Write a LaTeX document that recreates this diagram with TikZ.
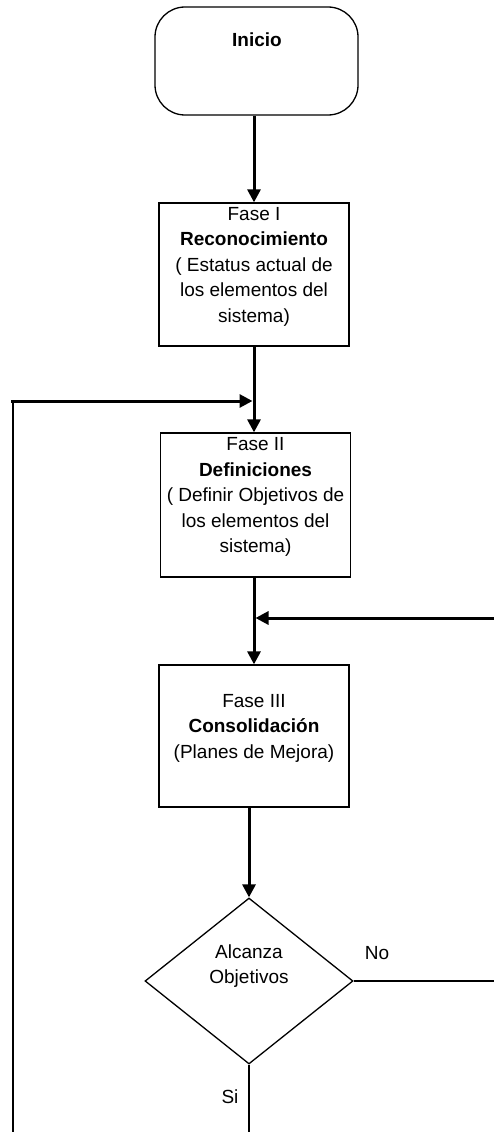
\documentclass[tikz,border=0pt]{standalone}
\usepackage{fontspec}
\setmainfont{Liberation Sans}
\usetikzlibrary{arrows.meta,shapes.geometric}
\begin{document}
\begin{tikzpicture}[x=1pt,y=-1pt,
  every node/.style={font=\fontsize{19}{25}\selectfont, inner sep=0pt},
  box/.style={draw, line width=1.3pt, minimum width=190pt, minimum height=143pt},
  txt/.style={align=center, font=\fontsize{19}{25.5}\selectfont},
  flow/.style={line width=3pt, -{Triangle[length=13pt,width=13pt]}},
  link/.style={line width=1.4pt},
]
\useasboundingbox (0,0) rectangle (494,1132);

% start terminal
\node[draw, line width=1.3pt, rounded corners=30pt, minimum width=203pt, minimum height=108pt] (inicio) at (256.5,61) {};
\node[font=\bfseries\fontsize{19}{25}\selectfont] (inicioText) at (257,40) {Inicio};

% phases
\node[box, label={[txt, yshift=8pt]center:{Fase I\\\textbf{Reconocimiento}\\( Estatus actual de\\los elementos del\\sistema)}}] (b1) at (254,274.5) {};
\node[box, minimum height=144pt, label={[txt, yshift=8pt]center:{Fase II\\\textbf{Definiciones}\\( Definir Objetivos de\\los elementos del\\sistema)}}] (b2) at (255.5,505) {};
\node[box, minimum height=142pt, label={[txt, yshift=8pt]center:{Fase III\\\textbf{Consolidación}\\(Planes de Mejora)}}] (b3) at (254,736) {};

% decision
\node[draw, diamond, line width=1.3pt, minimum width=208pt, minimum height=166pt,
      label={[txt, yshift=15pt]center:{Alcanza\\Objetivos}}] (dia) at (249,981) {};

% loop end points
\coordinate (cornerL) at (11,401);
\coordinate (topL) at (13,401);
\coordinate (bottomL) at (13,1132);
\coordinate (joinL) at (254,401);
\coordinate (edgeR) at (494,618);
\coordinate (joinR) at (254,618);
\coordinate (bottomEnd) at (249,1132);

% main flow
\draw[flow] (inicio.south -| b1.north) -- (b1.north);
\draw[flow] (b1.south) -- (b1.south |- b2.north);
\draw[flow] (b2.south -| b3.north) -- (b3.north);
\draw[flow] (b3.south -| dia.north) -- (dia.north);

% feedback lines
\draw[link] (bottomL) -- (topL);
\draw[flow, shorten >=1.5pt] (cornerL) -- (joinL);
\draw[flow, shorten >=1.5pt] (edgeR) -- (joinR);
\draw[link] (dia.east) -- (dia.east -| edgeR);
\draw[link] (dia.south) -- (bottomEnd);

% branch labels
\node (no) at (377,953) {No};
\node (si) at (230,1097) {Si};
\end{tikzpicture}
\end{document}
